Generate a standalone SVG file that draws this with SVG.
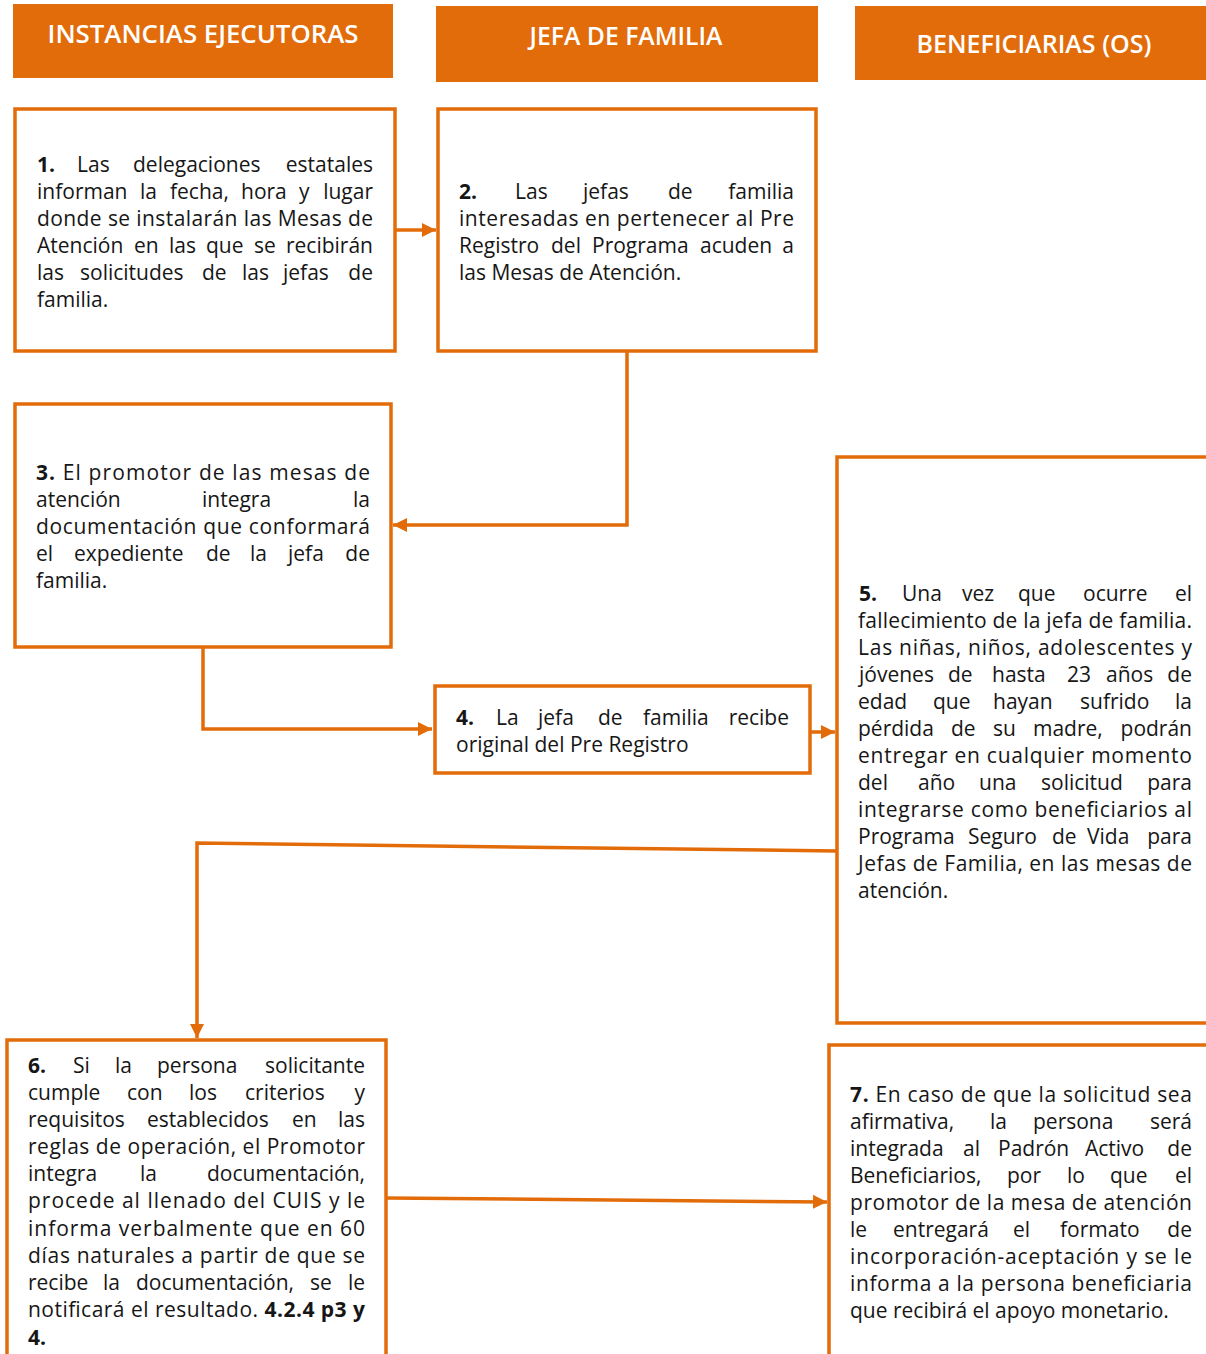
<svg xmlns="http://www.w3.org/2000/svg" width="1206" height="1354" viewBox="0 0 1206 1354">
<style>
.hdr{fill:#E36C0A}
.hdrt{font-family:"Open Sans","Noto Sans",sans-serif;font-weight:600;font-size:25px;fill:#fff;text-anchor:middle}
.box{fill:#fff;stroke:#E36C0A;stroke-width:3.5}
.t{font-family:"Open Sans","Noto Sans",sans-serif;font-size:21px;fill:#161616}
.b{font-weight:700}
.e{text-anchor:end}
.con{fill:none;stroke:#E36C0A;stroke-width:3.5}
</style>
<defs>
<marker id="ah" markerUnits="userSpaceOnUse" markerWidth="16" markerHeight="16" refX="14" refY="8" orient="auto">
<path d="M0,1 L14,8 L0,15 Z" fill="#E36C0A"/>
</marker>
</defs>
<rect width="1206" height="1354" fill="#fff"/>

<g id="hdr1"><rect class="hdr" x="13" y="4" width="380" height="74"/><text class="hdrt" x="203" y="43" textLength="311" lengthAdjust="spacingAndGlyphs">INSTANCIAS EJECUTORAS</text></g>
<g id="hdr2"><rect class="hdr" x="436" y="6" width="382" height="76"/><text class="hdrt" x="626" y="45" textLength="193" lengthAdjust="spacingAndGlyphs">JEFA DE FAMILIA</text></g>
<g id="hdr3"><rect class="hdr" x="855" y="6" width="355" height="74"/><text class="hdrt" x="1034" y="53" textLength="235" lengthAdjust="spacingAndGlyphs">BENEFICIARIAS (OS)</text></g>

<g id="connectors">
<line class="con" x1="395" y1="230" x2="436" y2="230" marker-end="url(#ah)"/>
<polyline class="con" points="627,352 627,525 393,525" marker-end="url(#ah)"/>
<polyline class="con" points="203,647 203,729 432,729" marker-end="url(#ah)"/>
<line class="con" x1="810" y1="732" x2="835" y2="732" marker-end="url(#ah)"/>
<polyline class="con" points="837,851 197,843 197,1038" marker-end="url(#ah)"/>
<line class="con" x1="386" y1="1198" x2="827" y2="1202" marker-end="url(#ah)"/>
</g>

<g id="n1">
<rect class="box" x="15" y="109" width="380" height="242"/>
<text class="t" y="172"><tspan x="37" class="b">1.</tspan><tspan x="77">Las</tspan><tspan x="133">delegaciones</tspan><tspan x="373" class="e">estatales</tspan></text>
<text class="t" y="199"><tspan x="37">informan</tspan><tspan x="140">la</tspan><tspan x="170">fecha,</tspan><tspan x="241">hora</tspan><tspan x="299">y</tspan><tspan x="373" class="e">lugar</tspan></text>
<text class="t" x="37" y="226" textLength="336" lengthAdjust="spacing">donde se instalarán las Mesas de</text>
<text class="t" y="253"><tspan x="37">Atención</tspan><tspan x="134">en</tspan><tspan x="169">las</tspan><tspan x="206">que</tspan><tspan x="254">se</tspan><tspan x="373" class="e">recibirán</tspan></text>
<text class="t" y="280"><tspan x="37">las</tspan><tspan x="80">solicitudes</tspan><tspan x="202">de</tspan><tspan x="242">las</tspan><tspan x="283">jefas</tspan><tspan x="373" class="e">de</tspan></text>
<text class="t" x="37" y="307">familia.</text>
</g>

<g id="n2">
<rect class="box" x="438" y="109" width="378" height="242"/>
<text class="t" y="199"><tspan x="459" class="b">2.</tspan><tspan x="515">Las</tspan><tspan x="583">jefas</tspan><tspan x="668">de</tspan><tspan x="794" class="e">familia</tspan></text>
<text class="t" x="459" y="226" textLength="335" lengthAdjust="spacing">interesadas en pertenecer al Pre</text>
<text class="t" y="253"><tspan x="459">Registro</tspan><tspan x="551">del</tspan><tspan x="592">Programa</tspan><tspan x="700">acuden</tspan><tspan x="794" class="e">a</tspan></text>
<text class="t" x="459" y="280">las Mesas de Atención.</text>
</g>

<g id="n3">
<rect class="box" x="15" y="404" width="376" height="243"/>
<text class="t" x="36" y="480" textLength="334" lengthAdjust="spacing"><tspan class="b">3.</tspan> El promotor de las mesas de</text>
<text class="t" y="507"><tspan x="36">atención</tspan><tspan x="202">integra</tspan><tspan x="370" class="e">la</tspan></text>
<text class="t" x="36" y="534" textLength="334" lengthAdjust="spacing">documentación que conformará</text>
<text class="t" y="561"><tspan x="36">el</tspan><tspan x="74">expediente</tspan><tspan x="206">de</tspan><tspan x="250">la</tspan><tspan x="288">jefa</tspan><tspan x="370" class="e">de</tspan></text>
<text class="t" x="36" y="588">familia.</text>
</g>

<g id="n4">
<rect class="box" x="435" y="686" width="375" height="87"/>
<text class="t" y="725"><tspan x="456" class="b">4.</tspan><tspan x="496">La</tspan><tspan x="538">jefa</tspan><tspan x="598">de</tspan><tspan x="643">familia</tspan><tspan x="789" class="e">recibe</tspan></text>
<text class="t" x="456" y="752">original del Pre Registro</text>
</g>

<g id="n5">
<rect class="box" x="837" y="457" width="380" height="566"/>
<text class="t" y="601"><tspan x="859" class="b">5.</tspan><tspan x="902">Una</tspan><tspan x="962">vez</tspan><tspan x="1018">que</tspan><tspan x="1083">ocurre</tspan><tspan x="1192" class="e">el</tspan></text>
<text class="t" x="858" y="628" textLength="334" lengthAdjust="spacing">fallecimiento de la jefa de familia.</text>
<text class="t" x="858" y="655" textLength="334" lengthAdjust="spacing">Las niñas, niños, adolescentes y</text>
<text class="t" y="682"><tspan x="859">jóvenes</tspan><tspan x="948">de</tspan><tspan x="992">hasta</tspan><tspan x="1067">23</tspan><tspan x="1106">años</tspan><tspan x="1192" class="e">de</tspan></text>
<text class="t" y="709"><tspan x="858">edad</tspan><tspan x="933">que</tspan><tspan x="993">hayan</tspan><tspan x="1080">sufrido</tspan><tspan x="1192" class="e">la</tspan></text>
<text class="t" y="736"><tspan x="858">pérdida</tspan><tspan x="951">de</tspan><tspan x="993">su</tspan><tspan x="1033">madre,</tspan><tspan x="1192" class="e">podrán</tspan></text>
<text class="t" x="858" y="763" textLength="334" lengthAdjust="spacing">entregar en cualquier momento</text>
<text class="t" y="790"><tspan x="858">del</tspan><tspan x="918">año</tspan><tspan x="979">una</tspan><tspan x="1041">solicitud</tspan><tspan x="1192" class="e">para</tspan></text>
<text class="t" x="858" y="817" textLength="334" lengthAdjust="spacing">integrarse como beneficiarios al</text>
<text class="t" y="844"><tspan x="858">Programa</tspan><tspan x="968">Seguro</tspan><tspan x="1052">de</tspan><tspan x="1087">Vida</tspan><tspan x="1192" class="e">para</tspan></text>
<text class="t" x="858" y="871" textLength="334" lengthAdjust="spacing">Jefas de Familia, en las mesas de</text>
<text class="t" x="858" y="898">atención.</text>
</g>

<g id="n6">
<rect class="box" x="7" y="1040" width="379" height="330"/>
<text class="t" y="1073"><tspan x="28" class="b">6.</tspan><tspan x="73">Si</tspan><tspan x="115">la</tspan><tspan x="157">persona</tspan><tspan x="365" class="e">solicitante</tspan></text>
<text class="t" y="1100"><tspan x="28">cumple</tspan><tspan x="127">con</tspan><tspan x="189">los</tspan><tspan x="245">criterios</tspan><tspan x="365" class="e">y</tspan></text>
<text class="t" y="1127"><tspan x="28">requisitos</tspan><tspan x="147">establecidos</tspan><tspan x="292">en</tspan><tspan x="365" class="e">las</tspan></text>
<text class="t" x="28" y="1154" textLength="337" lengthAdjust="spacing">reglas de operación, el Promotor</text>
<text class="t" y="1181"><tspan x="28">integra</tspan><tspan x="140">la</tspan><tspan x="365" class="e">documentación,</tspan></text>
<text class="t" x="28" y="1208" textLength="337" lengthAdjust="spacing">procede al llenado del CUIS y le</text>
<text class="t" x="28" y="1236" textLength="337" lengthAdjust="spacing">informa verbalmente que en 60</text>
<text class="t" x="28" y="1263" textLength="337" lengthAdjust="spacing">días naturales a partir de que se</text>
<text class="t" y="1290"><tspan x="28">recibe</tspan><tspan x="103">la</tspan><tspan x="136">documentación,</tspan><tspan x="310">se</tspan><tspan x="365" class="e">le</tspan></text>
<text class="t" x="28" y="1317" textLength="337" lengthAdjust="spacing">notificará el resultado. <tspan class="b">4.2.4 p3 y</tspan></text>
<text class="t b" x="28" y="1345">4.</text>
</g>

<g id="n7">
<rect class="box" x="829" y="1045" width="390" height="330"/>
<text class="t" x="850" y="1102" textLength="342" lengthAdjust="spacing"><tspan class="b">7.</tspan> En caso de que la solicitud sea</text>
<text class="t" y="1129"><tspan x="850">afirmativa,</tspan><tspan x="990">la</tspan><tspan x="1033">persona</tspan><tspan x="1192" class="e">será</tspan></text>
<text class="t" y="1156"><tspan x="850">integrada</tspan><tspan x="963">al</tspan><tspan x="998">Padrón</tspan><tspan x="1085">Activo</tspan><tspan x="1192" class="e">de</tspan></text>
<text class="t" y="1183"><tspan x="850">Beneficiarios,</tspan><tspan x="1007">por</tspan><tspan x="1067">lo</tspan><tspan x="1110">que</tspan><tspan x="1192" class="e">el</tspan></text>
<text class="t" x="850" y="1210" textLength="342" lengthAdjust="spacing">promotor de la mesa de atención</text>
<text class="t" y="1237"><tspan x="850">le</tspan><tspan x="893">entregará</tspan><tspan x="1013">el</tspan><tspan x="1060">formato</tspan><tspan x="1192" class="e">de</tspan></text>
<text class="t" x="850" y="1264" textLength="342" lengthAdjust="spacing">incorporación-aceptación y se le</text>
<text class="t" x="850" y="1291" textLength="342" lengthAdjust="spacing">informa a la persona beneficiaria</text>
<text class="t" x="850" y="1318">que recibirá el apoyo monetario.</text>
</g>
</svg>
